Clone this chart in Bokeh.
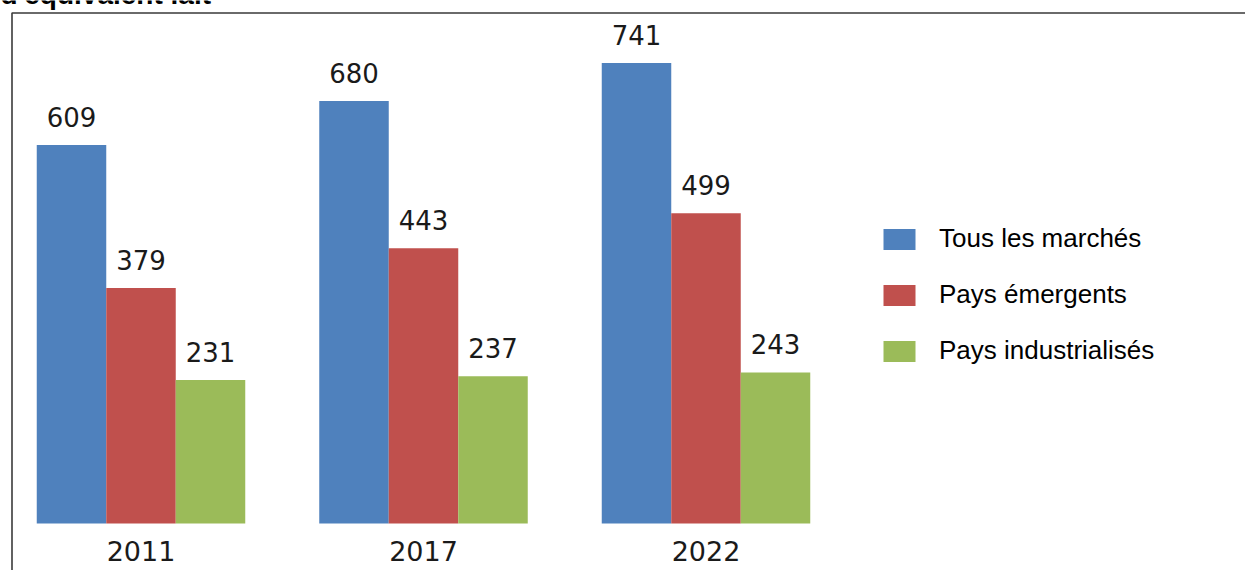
from bokeh.plotting import figure
from bokeh.models import Range1d, ColumnDataSource, Legend, LegendItem, BoxAnnotation, Label
from bokeh.core.properties import value
from bokeh.embed import file_html
from bokeh.resources import INLINE

# ---- data ----
years = ["2011", "2017", "2022"]
series_names = ["Tous les marchés", "Pays émergents", "Pays industrialisés"]
tous = [609, 680, 741]
emergents = [379, 443, 499]
industrialises = [231, 237, 243]
title_text = "d'équivalent lait"

colors = ["#4F81BD", "#C0504D", "#9BBB59"]

# ---- layout ----
W, H = 1245, 570
PX_X = 282.5            # pixels per group
X0_PX = 140.5           # pixel of first group centre
PX_Y = 0.6215           # pixels per unit
ZERO_PX = 523           # pixel (from top) of zero line

x_start = -X0_PX / PX_X
x_end = x_start + W / PX_X
y_end = ZERO_PX / PX_Y
y_start = -(H - ZERO_PX) / PX_Y

p = figure(width=W, height=H, output_backend="svg", toolbar_location=None,
           x_range=Range1d(x_start, x_end), y_range=Range1d(y_start, y_end),
           x_axis_location=None, y_axis_location=None, min_border=0)
p.outline_line_color = None
p.xgrid.visible = False
p.ygrid.visible = False
p.background_fill_color = "white"
p.border_fill_color = "white"

# frame border (top and left sides visible)
p.add_layout(BoxAnnotation(left=x_start + 11.5 / PX_X, top=y_end - 12.5 / PX_Y,
                           right=x_end + 5, bottom=y_start - 500,
                           fill_alpha=0, line_color="#3a3a3a", line_alpha=1.0,
                           line_width=1.6))

idx = list(range(len(years)))
bw = 69.5 / PX_X
offsets = [-bw, 0.0, bw]
all_vals = [tous, emergents, industrialises]

renderers = []
for vals, off, col in zip(all_vals, offsets, colors):
    src = ColumnDataSource(dict(x=[i + off for i in idx], top=vals,
                                lab=[str(v) for v in vals]))
    r = p.vbar(x="x", top="top", bottom=0, width=bw, source=src,
               fill_color=col, line_color=None)
    renderers.append(r)
    p.text(x="x", y="top", text="lab", source=src, y_offset=-28,
           text_align="center", text_baseline="alphabetic",
           text_font=value("DejaVu Sans"), text_font_size="26px",
           text_color="#1a1a1a")

# category labels
ysrc = ColumnDataSource(dict(x=idx, y=[0] * len(idx), lab=years))
p.text(x="x", y="y", text="lab", source=ysrc, y_offset=27,
       text_align="center", text_baseline="alphabetic",
       text_font=value("DejaVu Sans"), text_font_size="27px",
       text_color="#1a1a1a")

# title fragment at top-left
p.add_layout(Label(x=0, y=H + 6, x_units="screen", y_units="screen",
                   text=title_text, text_font="Liberation Sans",
                   text_font_style="bold", text_font_size="28px",
                   text_baseline="alphabetic", text_color="#000000"))

legend = Legend(items=[LegendItem(label=n, renderers=[r]) for n, r in zip(series_names, renderers)],
                location=(879, 204), padding=0, margin=0, spacing=25,
                glyph_width=40, glyph_height=26, label_height=21, label_standoff=20,
                label_text_font="Liberation Sans", label_text_font_size="26px",
                label_text_color="#000000", border_line_color=None,
                background_fill_alpha=0)
p.add_layout(legend)

open("out.html", "w").write(file_html(p, INLINE))
